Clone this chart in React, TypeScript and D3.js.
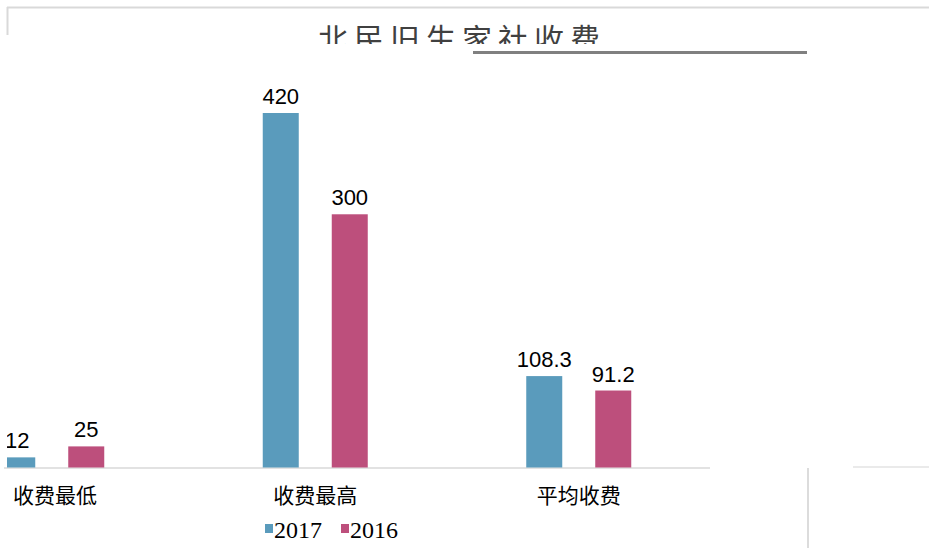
import React from "react";
import * as d3 from "d3";

const categories = ["收费最低", "收费最高", "平均收费"];
const seriesNames = ["2017", "2016"];
const values2017 = [12, 420, 108.3];
const values2016 = [25, 300, 91.2];
const valueLabels2017 = ["12", "420", "108.3"];
const valueLabels2016 = ["25", "300", "91.2"];
const titleText = "北民旧生家社收费";

const W = 929;
const H = 548;
const colors = ["#5a9bbc", "#bd4f7c"];

export default function App() {
  const baseY = 467.5;
  const y = d3.scaleLinear().domain([0, 420]).range([baseY, 113]);
  const x0 = d3.scaleBand<string>().domain(categories).range([-80, 710.5]).paddingInner(0).paddingOuter(0);
  const barW = 36;
  const series = [values2017, values2016];
  const labels = [valueLabels2017, valueLabels2016];
  const groupStart = (c: string) => (x0(c) as number) + (x0.bandwidth() - 105) / 2;
  const barX = (c: string, s: string) => groupStart(c) + (s === "2017" ? 0 : 69);

  return (
    <svg width={W} height={H} style={{ position: "absolute", left: 0, top: 0, display: "block", background: "#fff" }}>
      <defs>
        <clipPath id="plotClip">
          <rect x={7} y={0} width={W} height={H} />
        </clipPath>
        <clipPath id="titleClip">
          <rect x={0} y={0} width={W} height={44} />
        </clipPath>
      </defs>
      <rect width={W} height={H} fill="#fff" />
      {/* frame fragments */}
      <line x1={7} x2={W} y1={7.5} y2={7.5} stroke="#d9d9d9" strokeWidth={2} />
      <line x1={7.5} x2={7.5} y1={7} y2={35} stroke="#d9d9d9" strokeWidth={2} />
      {/* title */}
      <g clipPath="url(#titleClip)">
        <text x={318} y={50} textAnchor="start" fontFamily="Noto Sans CJK SC" fontSize={30} letterSpacing={6} fill="#404040">
          {titleText}
        </text>
      </g>
      <line x1={473} x2={807} y1={52.5} y2={52.5} stroke="#808080" strokeWidth={3} />
      {/* axis */}
      <line x1={4} x2={710} y1={468} y2={468} stroke="#d9d9d9" strokeWidth={1.5} />
      <line x1={853} x2={929} y1={467} y2={467} stroke="#e3e3e3" strokeWidth={1.5} />
      <line x1={808} x2={808} y1={468} y2={548} stroke="#dcdcdc" strokeWidth={2} />
      {/* bars */}
      <g clipPath="url(#plotClip)">
        {categories.map((c, i) =>
          seriesNames.map((s, j) => {
            const v = series[j][i];
            const bx = barX(c, s);
            return (
              <g key={c + s}>
                <rect x={bx} y={y(v)} width={barW} height={baseY - y(v)} fill={colors[j]} />
                <text
                  x={bx + barW / 2}
                  y={y(v) - 9}
                  textAnchor="middle"
                  fontFamily="Liberation Sans, Arial"
                  fontSize={22}
                  fill="#000"
                >
                  {labels[j][i]}
                </text>
              </g>
            );
          })
        )}
      </g>
      {/* category labels */}
      {categories.map((c) => (
        <text
          key={c}
          x={Math.max(groupStart(c) + 52.5, 55)}
          y={503}
          textAnchor="middle"
          fontFamily="Noto Sans CJK SC"
          fontSize={21}
          fill="#000"
        >
          {c}
        </text>
      ))}
      {/* legend */}
      {seriesNames.map((s, j) => (
        <g key={s} transform={`translate(${265 + j * 76},0)`}>
          <rect x={0} y={524} width={8} height={9} fill={colors[j]} />
          <text x={9} y={538} fontFamily="Liberation Serif" fontSize={24} fill="#000">
            {s}
          </text>
        </g>
      ))}
    </svg>
  );
}
